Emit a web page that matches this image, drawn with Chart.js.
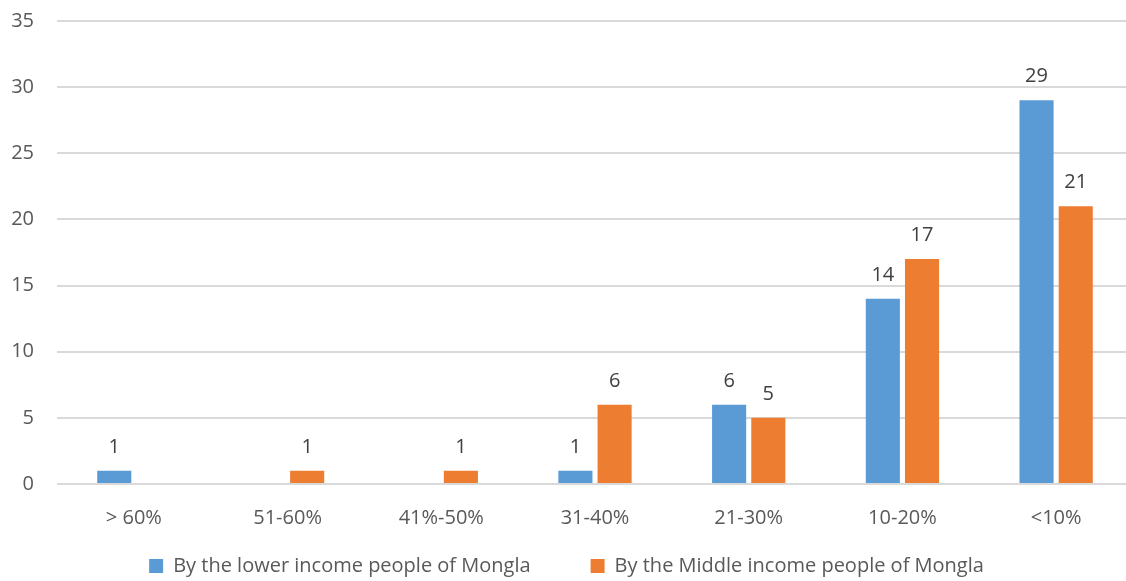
<!DOCTYPE html>
<html>
<head>
<meta charset="utf-8">
<script src="https://cdn.jsdelivr.net/npm/chart.js@4"></script>
<style>
  html, body { margin: 0; padding: 0; background: #fff; overflow: hidden; }
  #wrap { width: 1133px; height: 581px; }
</style>
</head>
<body>
<div id="wrap"><canvas id="incomeChart"></canvas></div>
<script>
// categories and series
const categories = ['> 60%', '51-60%', '41%-50%', '31-40%', '21-30%', '10-20%', '<10%'];
const lowerIncome = [1, 0, 0, 1, 6, 14, 29];
const middleIncome = [0, 1, 1, 6, 5, 17, 21];
const seriesNames = ['By the lower income people of Mongla', 'By the Middle income people of Mongla'];

const fontFamily = "'Open Sans', 'Noto Sans', sans-serif";
const legendGap = 60;

// draws value labels above bars (zeros left out, like the original)
const valueLabels = {
  id: 'valueLabels',
  afterDatasetsDraw(chart) {
    const ctx = chart.ctx;
    ctx.save();
    ctx.font = '20px ' + fontFamily;
    ctx.fillStyle = '#404040';
    ctx.textAlign = 'center';
    ctx.textBaseline = 'alphabetic';
    chart.data.datasets.forEach((ds, i) => {
      chart.getDatasetMeta(i).data.forEach((bar, j) => {
        if (ds.data[j] > 0) {
          ctx.fillText(ds.data[j], bar.x, bar.y - 18);
        }
      });
    });
    ctx.restore();
  }
};

// legend padding is used both between items and above them;
// keep the wide gap between items but a short legend box
const compactLegend = {
  id: 'compactLegend',
  beforeLayout(chart) {
    const lg = chart.legend;
    if (!lg || lg._compact) return;
    lg._compact = true;
    const fit = lg.fit;
    lg.fit = function () { fit.call(this); this.height = 35; };
    const draw = lg.draw;
    lg.draw = function () {
      const top = this.top;
      this.top = top - (legendGap - 10);
      draw.apply(this, arguments);
      this.top = top;
    };
  }
};

var ctx = document.getElementById('incomeChart').getContext('2d');
var incomeChart = new Chart(ctx, {
  type: 'bar',
  data: {
    labels: categories,
    datasets: [
      {
        label: seriesNames[0],
        data: lowerIncome,
        backgroundColor: '#5B9BD5',
        categoryPercentage: 0.51,
        barPercentage: 0.87
      },
      {
        label: seriesNames[1],
        data: middleIncome,
        backgroundColor: '#ED7D31',
        categoryPercentage: 0.51,
        barPercentage: 0.87
      }
    ]
  },
  options: {
    responsive: true,
    maintainAspectRatio: false,
    animation: false,
    layout: { padding: { top: 21, left: 0, right: 0, bottom: 0 } },
    plugins: {
      legend: {
        position: 'bottom',
        labels: {
          font: { size: 20, family: fontFamily },
          color: '#595959',
          boxWidth: 14,
          boxHeight: 14,
          padding: legendGap
        }
      },
      tooltip: { enabled: false }
    },
    scales: {
      x: {
        grid: { display: false, drawTicks: false },
        border: { display: false },
        ticks: { font: { size: 20, family: fontFamily }, color: '#595959', padding: 22 },
        afterFit(scale) { scale.height = 62; }
      },
      y: {
        min: 0,
        max: 35,
        ticks: { stepSize: 5, font: { size: 20, family: fontFamily }, color: '#595959', padding: 23 },
        grid: { color: '#D9D9D9', lineWidth: 2, drawTicks: false },
        border: { display: false },
        afterFit(scale) {
          scale.width = 57;
          scale.paddingTop = 0;
          scale.paddingBottom = 0;
        }
      }
    }
  },
  plugins: [valueLabels, compactLegend]
});
</script>
</body>
</html>
